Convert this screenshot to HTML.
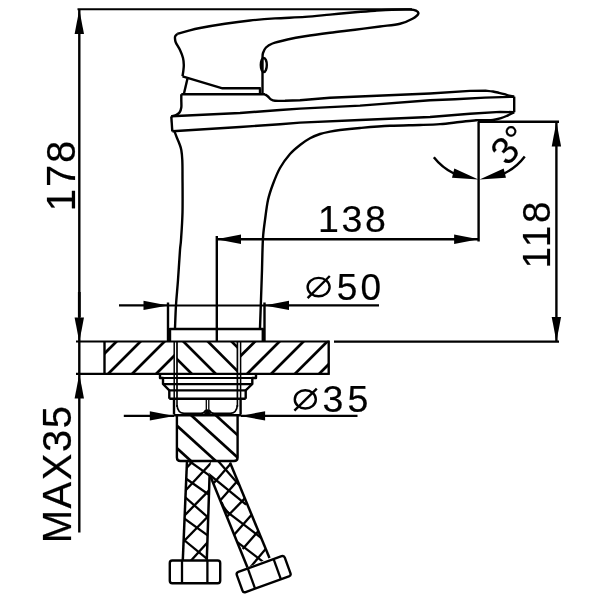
<!DOCTYPE html>
<html><head><meta charset="utf-8"><title>Faucet drawing</title>
<style>
html,body{margin:0;padding:0;background:#fff;}
body{width:600px;height:600px;overflow:hidden;font-family:"Liberation Sans",sans-serif;}
svg{display:block;}
svg *{vector-effect:none;}
.d line,.d path,.d rect,.d ellipse{fill:none;stroke:#000;stroke-width:2.4;stroke-linecap:butt;stroke-linejoin:round;}
.d .ah{fill:#000;stroke:none;}
.d text{font-family:"Liberation Sans",sans-serif;fill:#000;stroke:#000;stroke-width:0.2px;}
</style></head><body>
<svg class="d" style="filter:grayscale(1)" width="600" height="600" viewBox="0 0 600 600">
<rect x="0" y="0" width="600" height="600" style="fill:#fff;stroke:none"/>
<line x1="77.50" y1="9.30" x2="412.00" y2="9.30" style="stroke-width:2.0"/>
<line x1="79.30" y1="9.30" x2="79.30" y2="532.50"/>
<line x1="79.30" y1="292.00" x2="79.30" y2="317.00" style="stroke-width:2.8"/>
<polygon class="ah" points="79.30,9.60 84.00,34.10 74.60,34.10"/>
<polygon class="ah" points="79.30,342.00 74.60,317.50 84.00,317.50"/>
<polygon class="ah" points="79.30,374.00 84.00,398.50 74.60,398.50"/>
<path d="M177.30,33.90 C179.08,33.38 184.22,31.78 188.00,30.80 C191.78,29.82 193.83,29.18 200.00,28.00 C206.17,26.82 216.67,25.00 225.00,23.75 C233.33,22.50 241.67,21.39 250.00,20.50 C258.33,19.61 265.83,19.00 275.00,18.40 C284.17,17.80 295.83,17.53 305.00,16.90 C314.17,16.27 321.67,15.37 330.00,14.60 C338.33,13.83 347.50,12.95 355.00,12.30 C362.50,11.65 368.83,11.13 375.00,10.70 C381.17,10.27 386.17,9.90 392.00,9.70 C397.83,9.50 406.00,9.35 410.00,9.50 C414.00,9.65 414.62,9.89 416.00,10.60 C417.38,11.31 418.88,12.39 418.30,13.75 C417.72,15.11 415.55,17.08 412.50,18.75 C409.45,20.42 405.42,22.46 400.00,23.75 C394.58,25.04 387.50,25.51 380.00,26.50 C372.50,27.49 363.33,28.67 355.00,29.70 C346.67,30.73 338.33,31.62 330.00,32.70 C321.67,33.78 312.08,35.07 305.00,36.20 C297.92,37.33 292.92,38.28 287.50,39.50 C282.08,40.72 276.08,42.17 272.50,43.50 C268.92,44.83 267.58,45.92 266.00,47.50 C264.42,49.08 263.58,51.25 263.00,53.00 C262.42,54.75 262.58,57.17 262.50,58.00" />
<path d="M262.5,58 L262.5,93.5" />
<ellipse cx="263.8" cy="65" rx="3" ry="7"/>
<path d="M177.30,33.90 C176.95,34.28 175.58,35.43 175.20,36.20 C174.82,36.97 174.90,37.45 175.00,38.50 C175.10,39.55 174.97,40.58 175.80,42.50 C176.63,44.42 178.80,47.42 180.00,50.00 C181.20,52.58 182.37,55.50 183.00,58.00 C183.63,60.50 183.75,62.83 183.80,65.00 C183.85,67.17 183.52,69.12 183.30,71.00 C183.08,72.88 182.63,75.42 182.50,76.30" />
<path d="M182.5,76.3 L222.5,88.3 L260.8,88.3" />
<path d="M260,88.3 L260,94.3" />
<path d="M187.5,78.5 L183.8,94.3" />
<path d="M181.3,94.3 L265,94.3" />
<path d="M265.00,94.30 C265.50,94.67 267.00,95.63 268.00,96.50 C269.00,97.37 269.83,98.78 271.00,99.50 C272.17,100.22 272.67,100.58 275.00,100.80 C277.33,101.02 283.33,100.80 285.00,100.80 L300,100.2 L330,97.8 L430,93.5 L470,90.9 L486,90.7" />
<path d="M486.00,90.70 C487.17,90.83 490.83,91.15 493.00,91.50 C495.17,91.85 497.08,92.35 499.00,92.80 C500.92,93.25 502.83,93.73 504.50,94.20 C506.17,94.67 507.38,95.20 509.00,95.60 C510.62,96.00 513.33,96.43 514.20,96.60" />
<path d="M181.30,94.30 C181.30,95.25 181.30,97.80 181.30,100.00 C181.30,102.20 181.60,105.42 181.30,107.50 C181.00,109.58 180.38,111.25 179.50,112.50 C178.62,113.75 177.37,114.37 176.00,115.00 C174.63,115.63 172.08,116.08 171.30,116.30" />
<path d="M171.3,116.3 L172.3,131.3" />
<path d="M171.3,116.3 L240,113 L280,110 L300,108.6 L360,105.6 L430,100.2 L455,99.3 L485,97.6 L514.2,96.7" />
<path d="M172.3,131.3 L240,127 L280,124.2 L300,122.6 L360,120 L430,117 L470,113.8 L500,111.9 L514.2,112.2" />
<path d="M514.2,96.6 L514.2,112.2" />
<path d="M260.00,328.00 C260.13,324.17 260.47,314.67 260.80,305.00 C261.13,295.33 261.72,279.17 262.00,270.00 C262.28,260.83 262.30,255.83 262.50,250.00 C262.70,244.17 262.78,240.00 263.20,235.00 C263.62,230.00 264.20,225.83 265.00,220.00 C265.80,214.17 266.67,206.00 268.00,200.00 C269.33,194.00 271.00,189.33 273.00,184.00 C275.00,178.67 277.17,173.00 280.00,168.00 C282.83,163.00 286.67,157.83 290.00,154.00 C293.33,150.17 296.67,147.62 300.00,145.00 C303.33,142.38 306.67,140.13 310.00,138.30 C313.33,136.47 316.67,135.12 320.00,134.00 C323.33,132.88 326.67,132.27 330.00,131.60 C333.33,130.93 335.00,130.60 340.00,130.00 C345.00,129.40 351.67,128.70 360.00,128.00 C368.33,127.30 380.00,126.30 390.00,125.80 C400.00,125.30 411.67,125.28 420.00,125.00 C428.33,124.72 433.42,124.60 440.00,124.10 C446.58,123.60 453.50,122.65 459.50,122.00 C465.50,121.35 471.75,120.50 476.00,120.20 C480.25,119.90 482.17,120.23 485.00,120.20 C487.83,120.17 490.33,120.33 493.00,120.00 C495.67,119.67 498.67,118.90 501.00,118.20 C503.33,117.50 504.80,116.80 507.00,115.80 C509.20,114.80 513.00,112.80 514.20,112.20" />
<path d="M174.50,131.50 C174.92,132.58 176.17,135.92 177.00,138.00 C177.83,140.08 178.78,142.00 179.50,144.00 C180.22,146.00 180.83,147.33 181.30,150.00 C181.77,152.67 182.10,155.83 182.30,160.00 C182.50,164.17 182.47,166.25 182.50,175.00 C182.53,183.75 182.75,201.67 182.50,212.50 C182.25,223.33 181.42,233.75 181.00,240.00 C180.58,246.25 180.50,243.33 180.00,250.00 C179.50,256.67 178.67,270.83 178.00,280.00 C177.33,289.17 176.50,297.00 176.00,305.00 C175.50,313.00 175.17,324.17 175.00,328.00" />
<line x1="478.00" y1="121.70" x2="559.00" y2="121.70"/>
<line x1="478.60" y1="121.70" x2="478.60" y2="241.50"/>
<line x1="556.40" y1="121.70" x2="556.40" y2="341.50"/>
<polygon class="ah" points="556.40,122.00 561.10,146.50 551.70,146.50"/>
<polygon class="ah" points="556.40,341.50 551.70,317.00 561.10,317.00"/>
<line x1="334.00" y1="341.60" x2="559.00" y2="341.60"/>
<line x1="216.50" y1="239.30" x2="478.60" y2="239.30"/>
<polygon class="ah" points="216.50,239.30 241.00,234.60 241.00,244.00"/>
<polygon class="ah" points="478.60,239.30 454.10,244.00 454.10,234.60"/>
<line x1="216.80" y1="236.00" x2="216.80" y2="341.50"/>
<path d="M504.12,173.50 A57.3,57.3 0 0 0 524.76,156.48" />
<path d="M453.88,173.50 A57.3,57.3 0 0 1 433.85,157.28" />
<polygon class="ah" points="479.60,179.40 503.67,168.49 505.98,177.71"/>
<polygon class="ah" points="478.40,179.40 452.02,177.71 454.33,168.49"/>
<line x1="119.00" y1="305.40" x2="168.00" y2="305.40"/>
<polygon class="ah" points="168.00,305.40 143.50,310.10 143.50,300.70"/>
<line x1="264.50" y1="305.40" x2="379.00" y2="305.40"/>
<polygon class="ah" points="264.50,305.40 289.00,300.70 289.00,310.10"/>
<line x1="168.00" y1="305.40" x2="264.50" y2="305.40" style="stroke-width:2.0"/>
<line x1="168.00" y1="302.50" x2="168.00" y2="341.50"/>
<line x1="264.50" y1="302.50" x2="264.50" y2="341.50"/>
<path d="M170,341.5 L170,329 L262.8,329 L262.8,341.5" />
<line x1="76.00" y1="341.50" x2="328.70" y2="341.50" style="stroke-width:2.2"/>
<line x1="76.00" y1="373.90" x2="328.70" y2="373.90" style="stroke-width:2.2"/>
<line x1="104.50" y1="341.50" x2="104.50" y2="373.90"/>
<line x1="328.70" y1="340.50" x2="328.70" y2="374.90"/>
<line x1="174.20" y1="341.50" x2="174.20" y2="399.00" style="stroke-width:1.5"/>
<line x1="177.00" y1="341.50" x2="177.00" y2="399.00" style="stroke-width:1.7"/>
<line x1="237.40" y1="341.50" x2="237.40" y2="399.00" style="stroke-width:1.7"/>
<line x1="240.60" y1="341.50" x2="240.60" y2="399.00" style="stroke-width:1.5"/>
<clipPath id="cL"><rect x="104.5" y="341.5" width="69.7" height="32.4"/></clipPath>
<clipPath id="cM"><rect x="177" y="341.5" width="60.4" height="32.4"/></clipPath>
<clipPath id="cR"><rect x="240.6" y="341.5" width="88.1" height="32.4"/></clipPath>
<g clip-path="url(#cL)">
<line x1="82.00" y1="376.00" x2="118.40" y2="339.60" style="stroke-width:2.7"/>
<line x1="106.00" y1="376.00" x2="142.40" y2="339.60" style="stroke-width:2.7"/>
<line x1="130.00" y1="376.00" x2="166.40" y2="339.60" style="stroke-width:2.7"/>
<line x1="154.00" y1="376.00" x2="190.40" y2="339.60" style="stroke-width:2.7"/>
<line x1="178.00" y1="376.00" x2="214.40" y2="339.60" style="stroke-width:2.7"/>
</g>
<g clip-path="url(#cM)">
<line x1="133.00" y1="339.60" x2="169.40" y2="376.00" style="stroke-width:2.7"/>
<line x1="157.50" y1="339.60" x2="193.90" y2="376.00" style="stroke-width:2.7"/>
<line x1="181.50" y1="339.60" x2="217.90" y2="376.00" style="stroke-width:2.7"/>
<line x1="206.00" y1="339.60" x2="242.40" y2="376.00" style="stroke-width:2.7"/>
<line x1="229.70" y1="339.60" x2="266.10" y2="376.00" style="stroke-width:2.7"/>
</g>
<g clip-path="url(#cR)">
<line x1="220.50" y1="376.00" x2="256.90" y2="339.60" style="stroke-width:2.7"/>
<line x1="245.00" y1="376.00" x2="281.40" y2="339.60" style="stroke-width:2.7"/>
<line x1="269.00" y1="376.00" x2="305.40" y2="339.60" style="stroke-width:2.7"/>
<line x1="292.80" y1="376.00" x2="329.20" y2="339.60" style="stroke-width:2.7"/>
<line x1="317.00" y1="376.00" x2="353.40" y2="339.60" style="stroke-width:2.7"/>
</g>
<path d="M160,374 L160,378 L163,378 L163,384 L169.3,390.3 L169.3,398.7" />
<path d="M256,374 L256,378 L252.3,378 L252.3,384 L245.7,390.3 L245.7,398.7" />
<line x1="160.00" y1="378.00" x2="256.00" y2="378.00" style="stroke-width:1.8"/>
<line x1="163.00" y1="384.20" x2="252.30" y2="384.20" style="stroke-width:2.2"/>
<line x1="168.50" y1="390.30" x2="246.50" y2="390.30" style="stroke-width:2.2"/>
<line x1="169.30" y1="398.80" x2="245.70" y2="398.80" style="stroke-width:2.4"/>
<line x1="174.00" y1="398.80" x2="174.00" y2="414.50" style="stroke-width:2.4"/>
<line x1="177.00" y1="398.80" x2="177.00" y2="407.00" style="stroke-width:1.6"/>
<line x1="240.60" y1="398.80" x2="240.60" y2="414.50" style="stroke-width:2.4"/>
<line x1="237.40" y1="398.80" x2="237.40" y2="407.00" style="stroke-width:1.6"/>
<path d="M177,405 Q177.6,413 184,413.4 L201,413.4 Q204.5,413 206,410" style="stroke-width:1.7" />
<path d="M237.4,405 Q236.8,413 230.4,413.4 L214,413.4 Q210.5,413 209,410" style="stroke-width:1.7" />
<line x1="206.30" y1="400.00" x2="206.30" y2="411.00" style="stroke-width:1.3"/>
<line x1="208.80" y1="400.00" x2="208.80" y2="411.00" style="stroke-width:1.3"/>
<polygon class="ah" points="207.5,409 203.5,414.6 211.5,414.6"/>
<line x1="123.80" y1="415.90" x2="174.00" y2="415.90"/>
<polygon class="ah" points="174.30,415.90 149.80,420.60 149.80,411.20"/>
<line x1="174.00" y1="415.20" x2="241.00" y2="415.20" style="stroke-width:2.6"/>
<line x1="241.00" y1="415.90" x2="357.50" y2="415.90"/>
<polygon class="ah" points="240.60,415.90 265.10,411.20 265.10,420.60"/>
<path d="M176.9,415 L176.9,457.5 Q176.9,461 180.5,461 L234,461 Q237.6,461 237.6,457.5 L237.6,415" />
<clipPath id="cB"><rect x="176.9" y="415" width="60.7" height="46"/></clipPath>
<g clip-path="url(#cB)">
<line x1="139.30" y1="414.00" x2="193.20" y2="463.00" style="stroke-width:2.7"/>
<line x1="164.10" y1="414.00" x2="218.00" y2="463.00" style="stroke-width:2.7"/>
<line x1="189.80" y1="414.00" x2="243.70" y2="463.00" style="stroke-width:2.7"/>
<line x1="214.40" y1="414.00" x2="268.30" y2="463.00" style="stroke-width:2.7"/>
<line x1="238.80" y1="414.00" x2="292.70" y2="463.00" style="stroke-width:2.7"/>
</g>
<clipPath id="hL"><polygon points="187.00,461.00 211.00,461.00 209.50,475.00 206.80,560.00 182.80,560.00"/></clipPath>
<g clip-path="url(#hL)">
<line x1="183.74" y1="457.18" x2="212.76" y2="477.82" style="stroke-width:2.3"/>
<line x1="183.22" y1="476.71" x2="211.28" y2="496.29" style="stroke-width:2.3"/>
<line x1="182.51" y1="494.85" x2="210.49" y2="519.65" style="stroke-width:2.3"/>
<line x1="181.76" y1="516.66" x2="209.74" y2="536.84" style="stroke-width:2.3"/>
<line x1="180.90" y1="537.47" x2="209.10" y2="560.53" style="stroke-width:2.3"/>
<line x1="182.78" y1="493.43" x2="213.72" y2="460.07" style="stroke-width:2.3"/>
<line x1="182.20" y1="517.86" x2="209.80" y2="489.64" style="stroke-width:2.3"/>
<line x1="181.20" y1="543.86" x2="210.30" y2="514.14" style="stroke-width:2.3"/>
<line x1="189.31" y1="562.46" x2="209.69" y2="540.04" style="stroke-width:2.3"/>
<line x1="183.78" y1="470.93" x2="195.72" y2="458.07" style="stroke-width:2.3"/>
</g>
<line x1="187.00" y1="461.00" x2="182.80" y2="560.00" style="stroke-width:2.5"/>
<line x1="209.60" y1="475.00" x2="206.80" y2="560.00" style="stroke-width:2.5"/>
<clipPath id="hR"><polygon points="205.00,461.00 229.50,461.00 269.50,558.00 247.50,567.50 210.00,476.00"/></clipPath>
<g clip-path="url(#hR)">
<line x1="213.88" y1="483.02" x2="232.12" y2="461.98" style="stroke-width:2.3"/>
<line x1="218.85" y1="502.00" x2="239.15" y2="479.00" style="stroke-width:2.3"/>
<line x1="227.41" y1="516.26" x2="244.59" y2="498.64" style="stroke-width:2.3"/>
<line x1="232.16" y1="536.91" x2="253.84" y2="512.19" style="stroke-width:2.3"/>
<line x1="242.68" y1="549.12" x2="258.52" y2="530.88" style="stroke-width:2.3"/>
<line x1="247.44" y1="570.77" x2="267.16" y2="547.13" style="stroke-width:2.3"/>
<line x1="196.90" y1="464.47" x2="246.10" y2="504.53" style="stroke-width:2.3"/>
<line x1="216.37" y1="458.99" x2="239.13" y2="485.01" style="stroke-width:2.3"/>
<line x1="223.12" y1="508.88" x2="261.38" y2="538.02" style="stroke-width:2.3"/>
<line x1="234.02" y1="539.57" x2="264.88" y2="563.13" style="stroke-width:2.3"/>
</g>
<line x1="210.30" y1="476.00" x2="247.50" y2="567.50" style="stroke-width:2.5"/>
<line x1="230.00" y1="462.50" x2="269.50" y2="558.00" style="stroke-width:2.5"/>
<path d="M221.5,502 Q224,509.5 230.2,514.3" style="stroke-width:2.3" />
<rect x="169.8" y="560.5" width="50.4" height="22.8" rx="2.5" ry="2.5" style="stroke-width:2.4"/>
<line x1="182.00" y1="560.50" x2="182.00" y2="583.30" style="stroke-width:2.3"/>
<line x1="207.40" y1="560.50" x2="207.40" y2="583.30" style="stroke-width:2.3"/>
<g transform="translate(236,572.7) rotate(-19.9)"><rect x="0" y="0" width="51" height="21.5" rx="2.5" ry="2.5" style="stroke-width:2.4"/><line x1="12.5" y1="0" x2="12.5" y2="21.5" style="stroke-width:2.3"/><line x1="40" y1="0" x2="40" y2="21.5" style="stroke-width:2.3"/></g>
<text x="75" y="211.2" font-size="40" letter-spacing="1.9" text-anchor="start" transform="rotate(-90 75 211.2)">178</text>
<text x="550" y="268.5" font-size="38.5" letter-spacing="2.8" text-anchor="start" transform="rotate(-90 550 268.5)">118</text>
<text x="71.3" y="543.2" font-size="40" letter-spacing="1.5" text-anchor="start" transform="rotate(-90 71.3 543.2)">MAX35</text>
<text x="318" y="232" font-size="37.5" letter-spacing="2.6" text-anchor="start">138</text>
<text x="336.8" y="300" font-size="37" letter-spacing="3.2" text-anchor="start">50</text>
<text x="322.6" y="411.6" font-size="37.5" letter-spacing="4.0" text-anchor="start">35</text>
<text x="507.5" y="167" font-size="38" letter-spacing="0" text-anchor="start" transform="rotate(-48 507.5 167)">3°</text>
<ellipse cx="318.6" cy="287.1" rx="11" ry="9.2" style="stroke-width:2.4"/>
<line x1="307.60" y1="298.20" x2="329.80" y2="276.00" style="stroke-width:2.4"/>
<ellipse cx="305.3" cy="399.4" rx="10.5" ry="9.1" style="stroke-width:2.4"/>
<line x1="294.40" y1="410.60" x2="316.80" y2="388.60" style="stroke-width:2.4"/>
</svg>
</body></html>
